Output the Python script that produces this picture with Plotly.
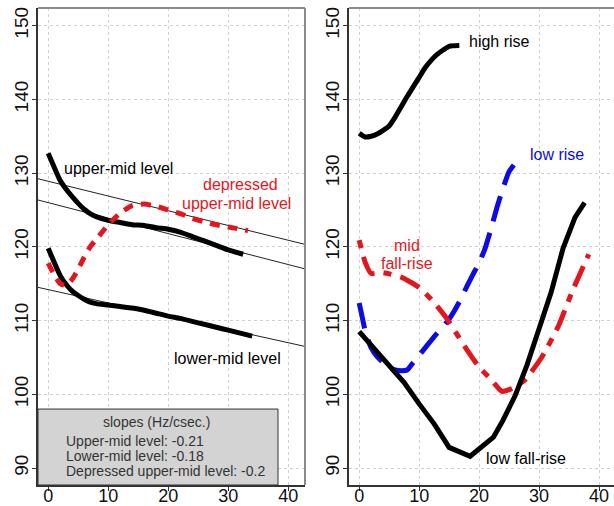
import plotly.graph_objects as go

# ---------------- data ----------------
# Left panel: level tones
upper_x = [0, 1, 2, 3, 4, 5, 6, 7, 8, 10, 12, 14, 16, 18, 20, 22, 24, 26, 28, 30, 32.5]
upper_y = [132.7, 130.8, 129.0, 127.8, 126.8, 125.9, 125.1, 124.5, 124.1, 123.6, 123.3,
           123.0, 122.9, 122.6, 122.4, 122.0, 121.4, 120.8, 120.2, 119.6, 119.0]

lower_x = [0, 1, 2, 3, 4, 5, 6, 7, 8, 10, 12, 14, 16, 18, 20, 22, 24, 26, 28, 30, 32, 34]
lower_y = [119.8, 117.9, 116.1, 114.9, 114.0, 113.4, 112.9, 112.5, 112.3, 112.1, 111.9,
           111.7, 111.4, 111.0, 110.6, 110.3, 109.9, 109.5, 109.1, 108.7, 108.3, 107.9]

depressed_x = [0, 1, 2, 3, 4, 5, 6, 7, 8, 10, 12, 14, 16, 18, 20, 22, 24, 26, 28, 30, 33.3]
depressed_y = [117.8, 116.2, 115.0, 114.8, 115.6, 117.0, 118.6, 120.0, 121.0, 123.0, 124.6,
               125.6, 125.8, 125.5, 125.0, 124.5, 123.9, 123.4, 123.0, 122.7, 122.2]

# regression lines (intercept at x=0, slope Hz/csec)
reg_names = ["Depressed upper-mid level", "Upper-mid level", "Lower-mid level"]
reg_intercepts = [128.9, 126.0, 114.2]
reg_slopes = [-0.20, -0.21, -0.18]

legend_title = "slopes (Hz/csec.)"
legend_lines = ["Upper-mid level: -0.21", "Lower-mid level: -0.18",
                "Depressed upper-mid level: -0.2"]

# Right panel: contour tones
high_rise_x = [0, 1, 2, 3, 4, 5, 6, 7, 8, 9, 10, 11, 12, 13, 14, 15, 16.7]
high_rise_y = [135.4, 134.9, 135.0, 135.3, 135.8, 136.4, 137.6, 139.0, 140.4, 141.7, 143.0,
               144.3, 145.3, 146.1, 146.7, 147.2, 147.3]

low_rise_x = [0, 0.5, 1, 2, 3, 4, 5, 6, 7, 8, 9, 10, 11, 12, 13, 14, 15, 16, 17, 18, 19,
              20, 21, 22, 23, 24, 25, 25.8]
low_rise_y = [112.4, 110.5, 108.6, 106.3, 105.1, 104.3, 103.6, 103.3, 103.2, 103.3, 104.3,
              105.3, 106.3, 107.3, 108.3, 109.2, 110.2, 111.5, 113.0, 114.7, 116.3, 117.8,
              119.8, 122.5, 125.4, 128.0, 130.2, 131.1]

low_fall_rise_x = [0, 2, 4, 6, 7.5, 10, 12.5, 15, 18.5, 22.4, 24, 26, 28, 30, 32, 34, 36, 37.6]
low_fall_rise_y = [108.5, 106.6, 104.9, 103.0, 101.6, 98.7, 96.0, 92.8, 91.6, 94.2, 96.5,
                   99.8, 104.0, 108.9, 113.8, 119.8, 124.0, 126.0]

mid_fall_rise_x = [0, 1, 2, 4, 7, 10, 12, 14.5, 16.5, 18, 20, 22, 23.8, 25.5, 27.7, 30.5,
                   33.2, 35.5, 38.3]
mid_fall_rise_y = [120.9, 117.9, 116.4, 116.5, 115.9, 114.5, 112.9, 110.4, 107.9, 106.0,
                   103.7, 102.0, 100.4, 100.8, 102.0, 105.1, 109.2, 113.9, 119.0]

x_ticks = [0, 10, 20, 30, 40]
y_ticks = [90, 100, 110, 120, 130, 140, 150]

# ---------------- styling ----------------
RED = "#e3161d"
BLUE = "#0b0be3"
BLACK = "#000000"
FONT = "Liberation Sans, Arial, sans-serif"
W, H = 614, 506
X1_RANGE = [-1.7, 42.8]
X2_RANGE = [-1.7, 42.5]
Y_RANGE = [87.7, 152.4]

fig = go.Figure()

# regression lines (left)
for b0, b1 in zip(reg_intercepts, reg_slopes):
    fig.add_trace(go.Scatter(
        x=X1_RANGE, y=[b0 + b1 * X1_RANGE[0], b0 + b1 * X1_RANGE[1]],
        mode="lines", line=dict(color="#222222", width=1), xaxis="x", yaxis="y",
        showlegend=False, hoverinfo="skip"))

fig.add_trace(go.Scatter(x=upper_x, y=upper_y, mode="lines",
                         line=dict(color=BLACK, width=5, shape="spline", smoothing=0.5),
                         xaxis="x", yaxis="y", showlegend=False))
fig.add_trace(go.Scatter(x=lower_x, y=lower_y, mode="lines",
                         line=dict(color=BLACK, width=5, shape="spline", smoothing=0.5),
                         xaxis="x", yaxis="y", showlegend=False))
fig.add_trace(go.Scatter(x=depressed_x, y=depressed_y, mode="lines",
                         line=dict(color=RED, width=5, dash="10px,8px", shape="spline",
                                   smoothing=0.5),
                         xaxis="x", yaxis="y", showlegend=False))

# right panel
fig.add_trace(go.Scatter(x=high_rise_x, y=high_rise_y, mode="lines",
                         line=dict(color=BLACK, width=5, shape="spline", smoothing=0.6),
                         xaxis="x2", yaxis="y2", showlegend=False))
fig.add_trace(go.Scatter(x=low_rise_x, y=low_rise_y, mode="lines",
                         line=dict(color=BLUE, width=5, dash="26px,12px", shape="spline",
                                   smoothing=0.5),
                         xaxis="x2", yaxis="y2", showlegend=False))
fig.add_trace(go.Scatter(x=mid_fall_rise_x, y=mid_fall_rise_y, mode="lines",
                         line=dict(color=RED, width=5, dash="8px,9px,22px,9px",
                                   shape="spline", smoothing=0.5),
                         xaxis="x2", yaxis="y2", showlegend=False))
fig.add_trace(go.Scatter(x=low_fall_rise_x, y=low_fall_rise_y, mode="lines",
                         line=dict(color=BLACK, width=5),
                         xaxis="x2", yaxis="y2", showlegend=False))

axis_common = dict(
    showgrid=True, gridcolor="#d0d0d0", griddash="dot", gridwidth=1,
    zeroline=False, showline=True, linecolor="#333333", linewidth=1.5,
    ticks="outside", ticklen=4, tickcolor="#333333",
)
x_font = dict(family=FONT, size=18, color="#111111")
y_font = dict(family=FONT, size=19, color="#111111")

fig.update_layout(
    width=W, height=H,
    margin=dict(l=0, r=0, t=8, b=21, autoexpand=False),
    paper_bgcolor="white", plot_bgcolor="white",
    showlegend=False,
    xaxis=dict(domain=[38 / W, 305 / W], range=X1_RANGE, tickvals=x_ticks,
               anchor="y", automargin=False, ticklabelstandoff=-10, tickfont=x_font,
               **axis_common),
    yaxis=dict(domain=[0, 1], range=Y_RANGE, tickvals=y_ticks, tickangle=-90,
               anchor="x", automargin=False, ticklabelstandoff=-3, tickfont=y_font,
               **axis_common),
    xaxis2=dict(domain=[349 / W, 1.0], range=X2_RANGE, tickvals=x_ticks,
                anchor="y2", automargin=False, ticklabelstandoff=-10, tickfont=x_font,
                **axis_common),
    yaxis2=dict(domain=[0, 1], range=Y_RANGE, tickvals=y_ticks, tickangle=-90,
                anchor="x2", automargin=False, ticklabelstandoff=-3, tickfont=y_font,
                **axis_common),
)

# top / right frame lines (lighter)
for xr in ["x", "x2"]:
    fig.add_shape(type="line", xref=f"{xr} domain", yref="paper", x0=0, x1=1, y0=1, y1=1,
                  line=dict(color="#8a8a8a", width=2))
fig.add_shape(type="line", xref="x domain", yref="paper", x0=1, x1=1, y0=0, y1=1,
              line=dict(color="#8a8a8a", width=2))

# slopes box (left panel)
fig.add_shape(type="rect", xref="x", yref="y", x0=X1_RANGE[0], x1=38.3,
              y0=Y_RANGE[0], y1=98.0, fillcolor="#d3d3d3",
              line=dict(color="#333333", width=1), layer="above")

ann = []
def txt(x, y, s, color, size, xref="x", yref="y", xanchor="left", align="left"):
    ann.append(dict(x=x, y=y, text=s, xref=xref, yref=yref, showarrow=False,
                    xanchor=xanchor, yanchor="middle", align=align,
                    font=dict(family=FONT, size=size, color=color)))

txt(2.3, 130.6, "upper-mid level", BLACK, 16)
txt(32.0, 128.4, "depressed", RED, 16, xanchor="center")
txt(31.3, 125.9, "upper-mid level", RED, 16, xanchor="center")
txt(29.9, 104.9, "lower-mid level", BLACK, 16, xanchor="center")

txt(18.1, 96.3, legend_title, "#333333", 14, xanchor="center")
for yy, s in zip([93.7, 91.6, 89.6], legend_lines):
    txt(2.7, yy, s, "#333333", 14)

txt(18.0, 147.9, "high rise", BLACK, 16, xref="x2", yref="y2")
txt(28.1, 132.5, "low rise", BLUE, 16, xref="x2", yref="y2")
txt(8.0, 120.2, "mid", RED, 16, xref="x2", yref="y2", xanchor="center")
txt(8.0, 117.8, "fall-rise", RED, 16, xref="x2", yref="y2", xanchor="center")
txt(20.8, 91.3, "low fall-rise", BLACK, 16, xref="x2", yref="y2")

fig.update_layout(annotations=ann)

fig.write_html("out.html",
               config={"displayModeBar": False},
               post_script="document.body.style.margin='0';document.body.style.overflow='hidden';")
